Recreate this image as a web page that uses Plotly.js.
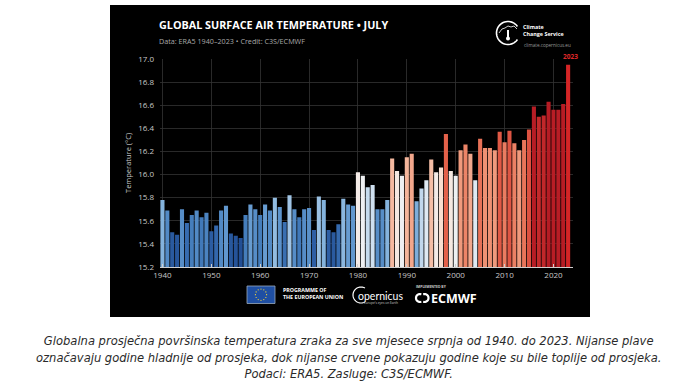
<!DOCTYPE html>
<html>
<head>
<meta charset="utf-8">
<script src="https://cdn.plot.ly/plotly-3.0.1.min.js"></script>
<style>
html,body{margin:0;padding:0;background:#fff;}
#chart{width:696px;height:386px;}
</style>
</head>
<body>
<div id="chart"></div>
<script>
// ---- data ----
const years = [1940,1941,1942,1943,1944,1945,1946,1947,1948,1949,
  1950,1951,1952,1953,1954,1955,1956,1957,1958,1959,
  1960,1961,1962,1963,1964,1965,1966,1967,1968,1969,
  1970,1971,1972,1973,1974,1975,1976,1977,1978,1979,
  1980,1981,1982,1983,1984,1985,1986,1987,1988,1989,
  1990,1991,1992,1993,1994,1995,1996,1997,1998,1999,
  2000,2001,2002,2003,2004,2005,2006,2007,2008,2009,
  2010,2011,2012,2013,2014,2015,2016,2017,2018,2019,
  2020,2021,2022,2023];
const temps = [15.78,15.69,15.50,15.48,15.70,15.58,15.65,15.69,15.63,15.67,
  15.51,15.56,15.69,15.73,15.49,15.47,15.45,15.65,15.74,15.70,
  15.65,15.74,15.69,15.80,15.72,15.59,15.82,15.70,15.63,15.70,
  15.71,15.52,15.81,15.78,15.52,15.50,15.57,15.79,15.74,15.73,
  16.02,15.99,15.89,15.91,15.70,15.70,15.78,16.14,16.03,15.99,
  16.15,16.18,15.77,15.88,15.95,16.13,16.02,16.06,16.35,16.03,
  15.99,16.21,16.26,16.18,15.95,16.31,16.23,16.23,16.21,16.37,
  16.28,16.38,16.27,16.21,16.30,16.39,16.59,16.50,16.51,16.63,
  16.56,16.56,16.61,16.95];
const xTickVals = [1940,1950,1960,1970,1980,1990,2000,2010,2020];
const yTickVals = [15.2,15.4,15.6,15.8,16.0,16.2,16.4,16.6,16.8,17.0];
const yTickText = ['15.2','15.4','15.6','15.8','16.0','16.2','16.4','16.6','16.8','17.0'];
const titleText = 'GLOBAL SURFACE AIR TEMPERATURE • JULY';
const subtitleText = 'Data: ERA5 1940–2023 • Credit: C3S/ECMWF';
const yTitleText = 'Temperature (°C)';
const highlightYear = 2023;
const captionText = 'Globalna prosječna površinska temperatura zraka za sve mjesece srpnja od 1940. do 2023. Nijanse plave<br>označavaju godine hladnije od prosjeka, dok nijanse crvene pokazuju godine koje su bile toplije od prosjeka.<br>Podaci: ERA5. Zasluge: C3S/ECMWF.';

// ---- layout geometry ----
const W = 696, H = 386, ML = 160, MR = 123, MT = 59, MB = 119;
const PW = W - ML - MR, PH = H - MT - MB;
const px = x => (x - ML) / PW;
const py = y => (H - MB - y) / PH;

function polyPath(pts, close) {
  let s = pts.map((p, i) => (i ? 'L' : 'M') + px(p[0]).toFixed(5) + ',' + py(p[1]).toFixed(5)).join(' ');
  return close ? s + ' Z' : s;
}
function arcPts(cx, cy, r, a0, a1, n) {
  const pts = [];
  for (let i = 0; i <= n; i++) {
    const a = (a0 + (a1 - a0) * i / n) * Math.PI / 180;
    pts.push([cx + r * Math.cos(a), cy - r * Math.sin(a)]);
  }
  return pts;
}

const colorscale = [
  [0.00, '#224f95'], [0.07, '#3266ab'], [0.14, '#4780be'], [0.19, '#6399cf'],
  [0.22, '#84b3dd'], [0.26, '#aecde9'], [0.32, '#d8e6f2'], [0.367, '#f2f2f2'],
  [0.41, '#f8dccd'], [0.46, '#f5b9a0'], [0.53, '#ee8a6c'], [0.60, '#e3614a'],
  [0.66, '#d43c34'], [0.73, '#b81d25'], [0.88, '#b31b23'], [1.00, '#d42526']
];

const bars = {
  type: 'bar', x: years, y: temps,
  marker: { color: temps, colorscale: colorscale, cmin: 15.45, cmax: 16.95, line: { width: 0 } },
  hoverinfo: 'skip'
};

const shapes = [];
// black panel
shapes.push({ type: 'rect', xref: 'paper', yref: 'paper', layer: 'below',
  x0: px(110), x1: px(590), y0: py(317), y1: py(5), fillcolor: '#000', line: { width: 0 } });
// climate logo arc
shapes.push({ type: 'path', xref: 'paper', yref: 'paper', path: polyPath(arcPts(508, 33, 11.5, 35, 325, 40), false),
  line: { color: '#fff', width: 1.6 } });
shapes.push({ type: 'path', xref: 'paper', yref: 'paper',
  path: polyPath([[499, 33], [502, 29], [505, 28], [508, 26], [511, 27], [514, 26], [517, 29]], false),
  line: { color: '#fff', width: 0.8 } });
shapes.push({ type: 'path', xref: 'paper', yref: 'paper', path: polyPath([[508, 30], [508, 37]], false),
  line: { color: '#fff', width: 2 } });
shapes.push({ type: 'circle', xref: 'paper', yref: 'paper', x0: px(506), x1: px(510), y0: py(40.5), y1: py(36.5),
  fillcolor: '#fff', line: { width: 0 } });
// EU flag
shapes.push({ type: 'rect', xref: 'paper', yref: 'paper', x0: px(247), x1: px(275), y0: py(303.5), y1: py(286),
  fillcolor: '#1f4fa3', line: { color: '#9ab', width: 0.8 } });
arcPts(261, 294.7, 5.6, 0, 330, 11).forEach(p => {
  shapes.push({ type: 'circle', xref: 'paper', yref: 'paper', x0: px(p[0] - 0.6), x1: px(p[0] + 0.6),
    y0: py(p[1] + 0.6), y1: py(p[1] - 0.6), fillcolor: '#ffdd33', line: { width: 0 } });
});
// Copernicus C
shapes.push({ type: 'path', xref: 'paper', yref: 'paper', path: polyPath(arcPts(361, 295, 8, 60, 300, 24), false),
  line: { color: '#fff', width: 1.2 } });
// ECMWF icon
shapes.push({ type: 'path', xref: 'paper', yref: 'paper',
  path: polyPath(arcPts(420, 298, 4, 70, 290, 14), false), line: { color: '#fff', width: 2.2 } });
shapes.push({ type: 'path', xref: 'paper', yref: 'paper',
  path: polyPath(arcPts(424.5, 298, 4, -110, 110, 14), false), line: { color: '#fff', width: 2.2 } });

const base = 'Open Sans, Noto Sans, sans-serif';
const ann = [];
function txt(x, y, text, size, color, opts) {
  ann.push(Object.assign({ xref: 'paper', yref: 'paper', x: px(x), y: py(y), text: text, showarrow: false,
    xanchor: 'left', yanchor: 'middle', font: { family: base, size: size, color: color } }, opts || {}));
}
txt(157, 24.5, '<b>' + titleText + '</b>', 10.8, '#ffffff');
txt(157, 41, subtitleText, 7.2, '#a8a8a8');
txt(128, 163, yTitleText, 7.5, '#c8c8c8', { xanchor: 'center', textangle: -90 });
txt(521, 27.5, '<b>Climate</b>', 5.4, '#ffffff');
txt(521, 33.5, '<b>Change Service</b>', 5.4, '#ffffff');
txt(522, 45, 'climate.copernicus.eu', 4.6, '#9a9a9a');
txt(280.5, 290, '<b>PROGRAMME OF</b>', 5.3, '#ffffff');
txt(280.5, 296.5, '<b>THE EUROPEAN UNION</b>', 5.3, '#ffffff');
txt(356, 295.5, 'opernicus', 10, '#ffffff', { font: { family: 'Lato, Open Sans, sans-serif', size: 10.5, color: '#ffffff' } });
txt(362, 302.5, "Europe's eyes on Earth", 3.2, '#cccccc');
txt(414, 286.5, '<b>IMPLEMENTED BY</b>', 3.4, '#cccccc');
txt(429, 298.5, '<b>ECMWF</b>', 12.5, '#ffffff', { yanchor: 'middle' });
ann.push({ xref: 'x', yref: 'y', x: highlightYear, y: temps[temps.length - 1], text: '<b>' + highlightYear + '</b>',
  showarrow: false, yanchor: 'bottom', yshift: 2, xshift: 2, font: { family: base, size: 6.5, color: '#e0282a' } });
ann.push({ xref: 'paper', yref: 'paper', x: px(348), y: py(357), text: '<i>' + captionText + '</i>', showarrow: false,
  xanchor: 'center', yanchor: 'middle', align: 'center',
  font: { family: 'DejaVu Sans Condensed, DejaVu Sans, sans-serif', size: 12.8, color: '#2a2a2a' } });

const layout = {
  width: W, height: H,
  margin: { l: ML, r: MR, t: MT, b: MB, pad: 0 },
  paper_bgcolor: '#ffffff', plot_bgcolor: '#000000',
  showlegend: false, bargap: 0.16,
  font: { family: base, color: '#c8c8c8' },
  xaxis: {
    range: [1939.5, 2024], tickvals: xTickVals, ticktext: xTickVals.map(String),
    showgrid: true, gridcolor: '#333333', gridwidth: 0.8, zeroline: false,
    showline: true, linecolor: '#cfcfcf', linewidth: 1,
    ticks: 'inside', ticklen: 3, tickcolor: '#cfcfcf',
    tickfont: { family: base, size: 8, color: '#c8c8c8' }, fixedrange: true
  },
  yaxis: {
    range: [15.2, 17.0], tickvals: yTickVals, ticktext: yTickText,
    showgrid: true, gridcolor: '#333333', gridwidth: 0.8, zeroline: false,
    showline: false, ticks: '', ticklabelstandoff: 5,
    tickfont: { family: base, size: 8, color: '#c8c8c8' }, fixedrange: true
  },
  shapes: shapes, annotations: ann
};

Plotly.newPlot('chart', [bars], layout, { displayModeBar: false, staticPlot: true });
</script>
</body>
</html>
